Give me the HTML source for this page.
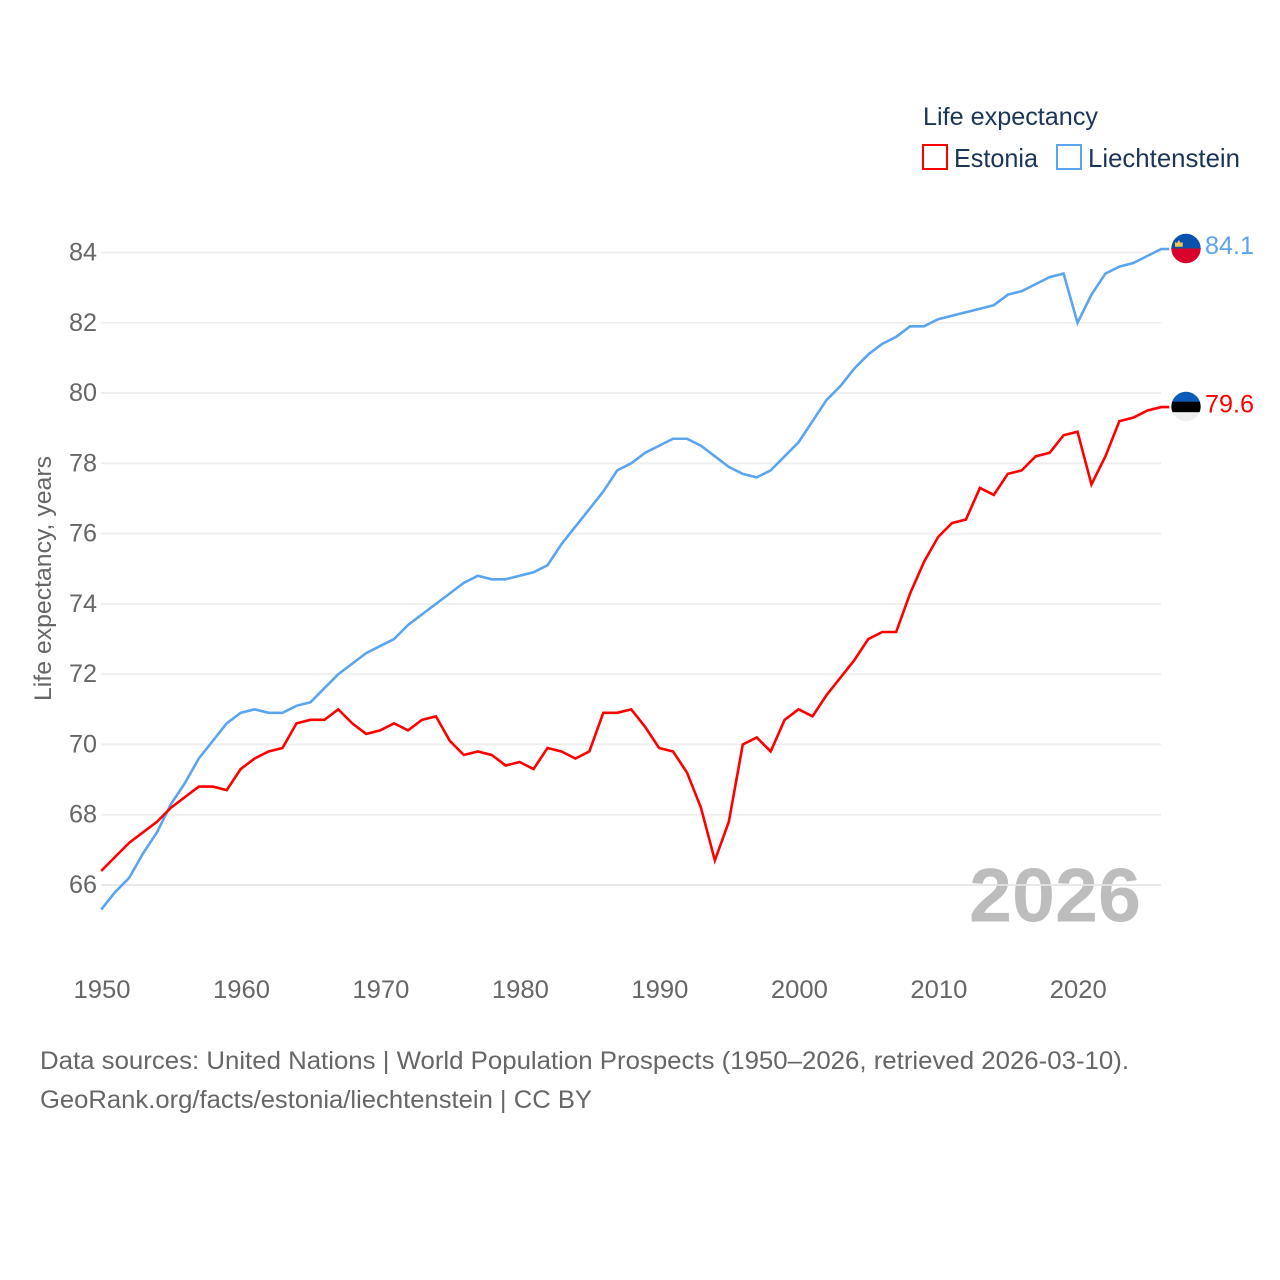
<!DOCTYPE html>
<html lang="en">
<head>
<meta charset="utf-8">
<title>Life expectancy: Estonia and Liechtenstein</title>
<style>
html,body{margin:0;padding:0;background:#fff;width:1280px;height:1280px;overflow:hidden}
svg{display:block;font-family:"Liberation Sans",sans-serif}
</style>
</head>
<body>
<svg id="chart" width="1280" height="1280" viewBox="0 0 1280 1280" xmlns="http://www.w3.org/2000/svg">
  <defs>
    <clipPath id="clip-li"><circle cx="1186" cy="248.5" r="14.7"/></clipPath>
    <clipPath id="clip-ee"><circle cx="1186" cy="406.5" r="14.7"/></clipPath>
  </defs>
  <text x="969" y="921.500" font-size="76" font-weight="700" fill="#bdbdbd" textLength="172" lengthAdjust="spacingAndGlyphs">2026</text>
  <g id="grid"></g>
  <g id="y-ticks"></g>
  <g id="x-ticks"></g>
  <text transform="translate(51,578.5) rotate(-90)" text-anchor="middle" font-size="24" fill="#666" textLength="245" lengthAdjust="spacingAndGlyphs">Life expectancy, years</text>
  <g id="series"></g>

  <g>
    <text x="923" y="125" font-size="25" fill="#1a3557" textLength="175" lengthAdjust="spacingAndGlyphs">Life expectancy</text>
    <rect x="923" y="145" width="24" height="24" fill="none" stroke="#ff0000" stroke-width="2"/>
    <text x="954" y="167" font-size="26" fill="#1a3557" textLength="84" lengthAdjust="spacingAndGlyphs">Estonia</text>
    <rect x="1057" y="145" width="24" height="24" fill="none" stroke="#5ba4ee" stroke-width="2"/>
    <text x="1088" y="167" font-size="26" fill="#1a3557" textLength="152" lengthAdjust="spacingAndGlyphs">Liechtenstein</text>
  </g>

  <g clip-path="url(#clip-li)">
    <rect x="1170" y="233" width="32" height="15.5" fill="#0a50ad"/>
    <rect x="1170" y="248.5" width="32" height="16" fill="#d9002b"/>
    <rect x="1170" y="248" width="32" height="1" fill="#7a2a55"/>
    <path d="M1175 246.700h7.700v-4.700l-2 1-1.850-3-1.850 3-2-1z" fill="#f2c94c"/>
  </g>
  <g clip-path="url(#clip-ee)">
    <rect x="1170" y="391" width="32" height="11" fill="#0a5cb8"/>
    <rect x="1170" y="401.700" width="32" height="10.600" fill="#000"/>
    <rect x="1170" y="412.300" width="32" height="11" fill="#eeeeee"/>
  </g>
  <text id="value-li" x="1205" y="254" font-size="25" fill="#5ba4ee" textLength="49" lengthAdjust="spacingAndGlyphs"></text>
  <text id="value-ee" x="1205" y="412.500" font-size="25" fill="#ff0000" textLength="49" lengthAdjust="spacingAndGlyphs"></text>

  <text x="40" y="1069" font-size="25" fill="#666" textLength="1089" lengthAdjust="spacingAndGlyphs">Data sources: United Nations | World Population Prospects (1950–2026, retrieved 2026-03-10).</text>
  <text x="40" y="1108" font-size="25" fill="#666" textLength="552" lengthAdjust="spacingAndGlyphs">GeoRank.org/facts/estonia/liechtenstein | CC BY</text>
</svg>
<script>
const startYear = 1950;
const yTicks = [66, 68, 70, 72, 74, 76, 78, 80, 82, 84];
const xTicks = [1950, 1960, 1970, 1980, 1990, 2000, 2010, 2020];
const estonia = [
  66.4,66.8,67.2,67.5,67.8,68.2,68.5,68.8,68.8,68.7,
  69.3,69.6,69.8,69.9,70.6,70.7,70.7,71.0,70.6,70.3,
  70.4,70.6,70.4,70.7,70.8,70.1,69.7,69.8,69.7,69.4,
  69.5,69.3,69.9,69.8,69.6,69.8,70.9,70.9,71.0,70.5,
  69.9,69.8,69.2,68.2,66.7,67.8,70.0,70.2,69.8,70.7,
  71.0,70.8,71.4,71.9,72.4,73.0,73.2,73.2,74.3,75.2,
  75.9,76.3,76.4,77.3,77.1,77.7,77.8,78.2,78.3,78.8,
  78.9,77.4,78.2,79.2,79.3,79.5,79.6
];
const liechtenstein = [
  65.3,65.8,66.2,66.9,67.5,68.3,68.9,69.6,70.1,70.6,
  70.9,71.0,70.9,70.9,71.1,71.2,71.6,72.0,72.3,72.6,
  72.8,73.0,73.4,73.7,74.0,74.3,74.6,74.8,74.7,74.7,
  74.8,74.9,75.1,75.7,76.2,76.7,77.2,77.8,78.0,78.3,
  78.5,78.7,78.7,78.5,78.2,77.9,77.7,77.6,77.8,78.2,
  78.6,79.2,79.8,80.2,80.7,81.1,81.4,81.6,81.9,81.9,
  82.1,82.2,82.3,82.4,82.5,82.8,82.9,83.1,83.3,83.4,
  82.0,82.8,83.4,83.6,83.7,83.9,84.1
];

const SVG_NS = 'http://www.w3.org/2000/svg';
const xScale = function (year) { return 101.2 + (year - 1950) * (1161.2 - 101.2) / 76; };
const yScale = function (v) { return 252.5 + (84 - v) * (885 - 252.5) / 18; };

const gridGroup = document.getElementById('grid');
const yGroup = document.getElementById('y-ticks');
const xGroup = document.getElementById('x-ticks');
const seriesGroup = document.getElementById('series');

yTicks.forEach(function (t) {
  const line = document.createElementNS(SVG_NS, 'line');
  
  
  line.setAttribute('x1', 101);
  line.setAttribute('x2', 1161);
  line.setAttribute('y1', yScale(t));
  line.setAttribute('y2', yScale(t));
  line.setAttribute('stroke', t === 66 ? '#e6e6e6' : '#eeeeee');
  line.setAttribute('stroke-width', 1.8);
  gridGroup.appendChild(line);

  const label = document.createElementNS(SVG_NS, 'text');
  
  
  label.setAttribute('x', 97);
  label.setAttribute('y', yScale(t) + 8);
  label.setAttribute('text-anchor', 'end');
  label.setAttribute('font-size', 25);
  label.setAttribute('fill', '#666');
  label.setAttribute('textLength', 28);
  label.setAttribute('lengthAdjust', 'spacingAndGlyphs');
  label.textContent = String(t);
  yGroup.appendChild(label);
});

xTicks.forEach(function (t) {
  const label = document.createElementNS(SVG_NS, 'text');
  
  
  label.setAttribute('x', xScale(t) + 0.8);
  label.setAttribute('y', 998);
  label.setAttribute('text-anchor', 'middle');
  label.setAttribute('font-size', 25);
  label.setAttribute('fill', '#666');
  label.setAttribute('textLength', 57);
  label.setAttribute('lengthAdjust', 'spacingAndGlyphs');
  label.textContent = String(t);
  xGroup.appendChild(label);
});

function pathFor(values) {
  return values.map(function (v, i) {
    return (i === 0 ? 'M' : 'L') + xScale(startYear + i).toFixed(2) + ' ' + yScale(v).toFixed(2);
  }).join(' ') + ' h8';
}

const lineLi = document.createElementNS(SVG_NS, 'path');


lineLi.setAttribute('d', pathFor(liechtenstein));
lineLi.setAttribute('fill', 'none');
lineLi.setAttribute('stroke', '#5ba4ee');
lineLi.setAttribute('stroke-width', 2.6);
lineLi.setAttribute('stroke-linejoin', 'miter');
seriesGroup.appendChild(lineLi);

const lineEe = document.createElementNS(SVG_NS, 'path');


lineEe.setAttribute('d', pathFor(estonia));
lineEe.setAttribute('fill', 'none');
lineEe.setAttribute('stroke', '#ff0000');
lineEe.setAttribute('stroke-width', 2.6);
lineEe.setAttribute('stroke-linejoin', 'miter');
seriesGroup.appendChild(lineEe);

document.getElementById('value-li').textContent = liechtenstein[liechtenstein.length - 1].toFixed(1);
document.getElementById('value-ee').textContent = estonia[estonia.length - 1].toFixed(1);
</script>
</body>
</html>
